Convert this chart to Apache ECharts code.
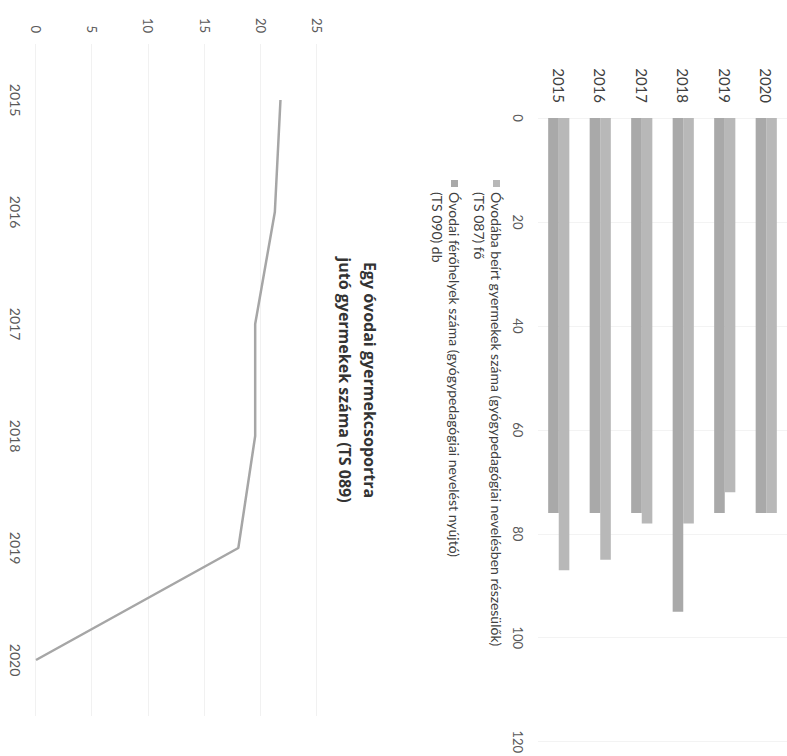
<!DOCTYPE html>
<html>
<head>
<meta charset="utf-8">
<script src="https://cdn.jsdelivr.net/npm/echarts@6/dist/echarts.min.js"></script>
<style>
  html, body { margin: 0; padding: 0; background: #ffffff; overflow: hidden; width: 787px; height: 756px; }
  #wrap { position: absolute; left: 0; top: 0; width: 756px; height: 787px;
          transform-origin: 0 0; transform: translate(787px, 0) rotate(90deg); background: #ffffff; }
</style>
</head>
<body>
<div id="wrap"></div>
<script>
// ---- data ----
const years = ['2015', '2016', '2017', '2018', '2019', '2020'];
const childrenEnrolled = [87, 85, 78, 78, 72, 76];      // TS 087 fő
const placesAvailable = [76, 76, 76, 95, 76, 76];       // TS 090 db
const childrenPerGroup = [21.75, 21.25, 19.5, 19.5, 18, 0]; // TS 089
const barTicks = [0, 20, 40, 60, 80, 100, 120];
const lineTicks = [0, 5, 10, 15, 20, 25];

const legendChildren = ['Óvodába beírt gyermekek száma (gyógypedagógiai nevelésben részesülők)', '(TS 087) fő'];
const legendPlaces = ['Óvodai férőhelyek száma (gyógypedagógiai nevelést nyújtó)', '(TS 090) db'];
const titleText = ['Egy óvodai gyermekcsoportra', 'jutó gyermekek száma (TS 089)'];

const FONT = 'Lato';
const chart = echarts.init(document.getElementById('wrap'), null, { renderer: 'svg' });

chart.setOption({
  backgroundColor: '#ffffff',
  animation: false,
  textStyle: { fontFamily: FONT },
  title: {
    text: titleText.join('\n'),
    left: 375, top: 400, textAlign: 'center',
    textStyle: { fontFamily: 'Open Sans', fontSize: 16, fontWeight: 'bold', color: '#333333', lineHeight: 25 }
  },
  legend: [
    {
      data: ['children'], left: 180, top: 265, padding: 0,
      icon: 'rect', itemWidth: 7, itemHeight: 7, itemGap: 4,
      formatter: () => '\n' + legendChildren.join('\n'),
      textStyle: { fontFamily: FONT, fontSize: 14, color: '#404040', lineHeight: 17 }
    },
    {
      data: ['places'], left: 180, top: 307, padding: 0,
      icon: 'rect', itemWidth: 7, itemHeight: 7, itemGap: 4,
      formatter: () => '\n' + legendPlaces.join('\n'),
      textStyle: { fontFamily: FONT, fontSize: 14, color: '#404040', lineHeight: 17 }
    }
  ],
  grid: [
    { left: 118, top: -2, width: 624, height: 251, containLabel: false },
    { left: 44, top: 470, width: 672, height: 281, containLabel: false }
  ],
  xAxis: [
    {
      type: 'value', gridIndex: 0, min: barTicks[0], max: barTicks[barTicks.length - 1],
      interval: barTicks[1] - barTicks[0],
      axisLine: { show: false }, axisTick: { show: false },
      axisLabel: { fontSize: 13, color: '#595959', margin: 14 },
      splitLine: { show: true, lineStyle: { color: '#f3f3f3', width: 1 } }
    },
    {
      type: 'category', gridIndex: 1, data: years, boundaryGap: true,
      axisLine: { show: false }, axisTick: { show: false },
      axisLabel: { fontSize: 14, color: '#595959', margin: 14 },
      splitLine: { show: false }
    }
  ],
  yAxis: [
    {
      type: 'category', gridIndex: 0, data: years,
      axisLine: { show: false }, axisTick: { show: false },
      axisLabel: { fontSize: 15, color: '#404040', margin: 15 }
    },
    {
      type: 'value', gridIndex: 1, min: lineTicks[0], max: lineTicks[lineTicks.length - 1],
      interval: lineTicks[1] - lineTicks[0],
      axisLine: { show: false }, axisTick: { show: false },
      axisLabel: { fontSize: 13, color: '#595959', margin: 11 },
      splitLine: { show: true, lineStyle: { color: '#f1f1f1', width: 1 } }
    }
  ],
  series: [
    {
      name: 'children', type: 'bar', xAxisIndex: 0, yAxisIndex: 0,
      data: childrenEnrolled, barGap: '0%', barCategoryGap: '49%',
      itemStyle: { color: '#b8b8b8' }
    },
    {
      name: 'places', type: 'bar', xAxisIndex: 0, yAxisIndex: 0,
      data: placesAvailable, barGap: '0%', barCategoryGap: '49%',
      itemStyle: { color: '#a9a9a9' }
    },
    {
      name: 'perGroup', type: 'line', xAxisIndex: 1, yAxisIndex: 1,
      data: childrenPerGroup, showSymbol: false, symbol: 'none',
      lineStyle: { color: '#a6a6a6', width: 2.5 }, itemStyle: { color: '#a6a6a6' }
    }
  ]
});
</script>
</body>
</html>
